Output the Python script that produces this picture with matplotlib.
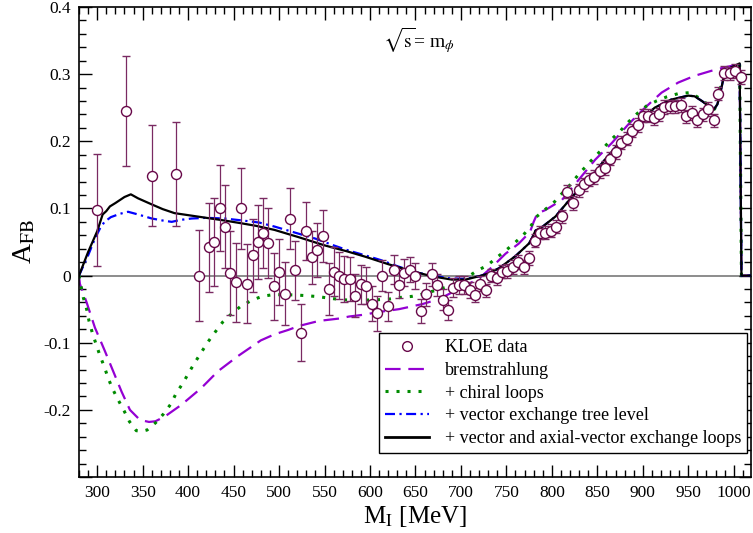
import numpy as np
import matplotlib
matplotlib.use("Agg")
import matplotlib.pyplot as plt
from matplotlib.lines import Line2D
from matplotlib.ticker import MultipleLocator, FixedLocator

plt.rcParams['font.family'] = ['Liberation Serif', 'DejaVu Serif']
plt.rcParams['mathtext.fontset'] = 'stix'

# ---------------- data ----------------
kloe_m = [299.4, 331.5, 360, 387, 412.5, 423, 428.7, 435, 441, 446.5, 453, 458.7, 464.5,
          471, 476.7, 482.5, 488, 494.6, 500.4, 506, 512.5, 518, 524, 530, 535.8, 542, 548,
          554.5, 560, 565.8, 571.6, 577.8, 583.7, 590, 595.4, 602, 608, 613.7, 619.5, 626,
          632, 637.8, 644, 649.8, 656, 661.6, 667.8, 674, 679.8, 685.7, 691.5, 697.4, 703,
          709.8, 715.6, 721.5, 727.4, 733, 739.4, 745, 751, 757.3, 763, 769, 775, 781.5, 787,
          793, 799, 805, 811, 817, 823, 829.4, 835, 840.3, 846.5, 852.4, 858, 864.4, 870.6,
          876, 882.3, 888, 894.4, 900, 906, 912, 917.7, 923.6, 929.8, 935.5, 942, 948, 954,
          960, 965.7, 972, 978, 982.8, 989, 996, 1001.8, 1008]
kloe_a = [0.098, 0.245, 0.149, 0.151, 0.000, 0.042, 0.050, 0.101, 0.073, 0.004, -0.010, 0.100, -0.012,
          0.030, 0.050, 0.063, 0.048, -0.016, 0.005, -0.027, 0.085, 0.008, -0.085, 0.066, 0.027, 0.038, 0.059,
          -0.020, 0.006, 0.000, -0.005, -0.005, -0.030, -0.013, -0.015, -0.042, -0.056, 0.000, -0.046, 0.009,
          -0.014, 0.004, 0.009, -0.001, -0.053, -0.028, 0.002, -0.014, -0.036, -0.051, -0.018, -0.014, -0.014,
          -0.021, -0.029, -0.012, -0.022, 0.000, -0.004, 0.006, 0.007, 0.013, 0.020, 0.013, 0.026, 0.052, 0.064,
          0.064, 0.067, 0.073, 0.088, 0.125, 0.108, 0.127, 0.136, 0.143, 0.147, 0.156, 0.160, 0.174, 0.184,
          0.198, 0.204, 0.216, 0.224, 0.238, 0.238, 0.235, 0.240, 0.251, 0.252, 0.252, 0.254, 0.237, 0.242,
          0.232, 0.240, 0.248, 0.231, 0.271, 0.302, 0.301, 0.305, 0.296]
kloe_err = [0.083, 0.082, 0.075, 0.077, 0.068, 0.066, 0.066, 0.064, 0.062, 0.062, 0.059, 0.060, 0.059,
            0.055, 0.055, 0.052, 0.052, 0.050, 0.049, 0.047, 0.045, 0.044, 0.042, 0.043, 0.040, 0.040, 0.039,
            0.039, 0.036, 0.035, 0.034, 0.033, 0.032, 0.029, 0.028, 0.026, 0.026, 0.023, 0.022, 0.021,
            0.020, 0.020, 0.019, 0.019, 0.018, 0.017, 0.017, 0.016, 0.016, 0.015, 0.014, 0.013, 0.013,
            0.012, 0.011, 0.011, 0.010, 0.010, 0.010, 0.010, 0.010, 0.010, 0.010, 0.010, 0.010, 0.010, 0.010,
            0.010, 0.010, 0.010, 0.010, 0.010, 0.010, 0.010, 0.010, 0.010, 0.010, 0.010, 0.010, 0.010, 0.010,
            0.010, 0.010, 0.010, 0.010, 0.010, 0.010, 0.010, 0.010, 0.010, 0.010, 0.010, 0.010, 0.010, 0.010,
            0.010, 0.010, 0.010, 0.010, 0.010, 0.010, 0.010, 0.010, 0.010]

brems_m = [280, 281, 288.4, 297.5, 308.5, 317.6, 326.7, 336, 347, 357, 364, 374.3, 392.6, 414.5,
           432.8, 454.7, 480, 495, 510, 522, 544, 566, 577, 595, 606, 632, 657.5, 676, 694, 708.7,
           721.5, 734, 749, 763.5, 776, 780, 784, 792.7, 811, 829.4, 847.6, 866, 884, 902.4, 920.7,
           939, 957, 975.5, 990, 1006.5, 1008.5, 1019]
brems_a = [0, -0.0125, -0.04, -0.0775, -0.1125, -0.1425, -0.1725, -0.2, -0.215, -0.218, -0.217, -0.21,
           -0.1925, -0.1675, -0.1425, -0.12, -0.0965, -0.0875, -0.081, -0.075, -0.0675, -0.064, -0.061,
           -0.058, -0.055, -0.05, -0.0425, -0.035, -0.0225, -0.0125, -0.0025, 0.0125, 0.0325, 0.0475,
           0.065, 0.08, 0.0925, 0.0975, 0.1125, 0.1425, 0.1725, 0.1975, 0.225, 0.25, 0.2725, 0.2875,
           0.2975, 0.305, 0.31, 0.315, 0, 0]

chiral_m = [280, 284.7, 288.4, 291, 294.6, 298.6, 303, 308, 312, 317, 323, 329.6, 335.5, 343, 349,
            354.9, 364.4, 373, 380.9, 387, 394.4, 401, 407.9, 414.9, 422, 429.8, 437.9, 447.3, 457.6,
            469, 481, 493, 507, 519, 531, 543.5, 557, 570, 583, 595, 608, 621, 634, 646, 658, 671, 683,
            695, 707, 718, 729, 739, 749, 759, 769, 777.5, 783, 792.7, 803, 812, 821, 829, 838, 847.6,
            856.7, 866, 875, 884, 894, 904, 915, 926, 939, 952, 964.5, 975.5, 979, 983, 987, 992, 1000,
            1006.5, 1008.5, 1019]
chiral_a = [0, -0.0325, -0.05, -0.0675, -0.085, -0.1015, -0.119, -0.1365, -0.1525, -0.169, -0.185,
            -0.2015, -0.2175, -0.231, -0.232, -0.23, -0.219, -0.206, -0.1915, -0.175, -0.16, -0.144,
            -0.1285, -0.1135, -0.0985, -0.084, -0.0695, -0.0575, -0.046, -0.0375, -0.031, -0.0285,
            -0.0285, -0.029, -0.03, -0.0315, -0.034, -0.036, -0.037, -0.0365, -0.036, -0.035, -0.0325,
            -0.031, -0.0275, -0.0225, -0.0175, -0.011, -0.0025, 0.0075, 0.015, 0.0265, 0.037, 0.0485,
            0.061, 0.075, 0.0875, 0.0985, 0.11, 0.1235, 0.1365, 0.15, 0.1635, 0.1775, 0.19, 0.2035,
            0.215, 0.2285, 0.2415, 0.2525, 0.26, 0.266, 0.271, 0.2725, 0.2625, 0.25, 0.248, 0.262, 0.29,
            0.305, 0.31, 0.314, 0, 0]

vtree_m = [280, 290, 297.5, 303, 308, 315, 325, 334, 345, 360, 372, 382, 392, 404, 420, 440, 460,
           478, 495, 515, 540, 560, 577, 595, 612, 630, 650, 668, 687, 705, 720, 730, 742, 760, 775,
           779, 782, 789, 804, 822, 840, 858, 877, 895, 913, 931, 950, 957, 965, 978, 982, 985, 990,
           997, 1006.5, 1008.5, 1019]
vtree_a = [0, 0.03, 0.055, 0.07, 0.08, 0.087, 0.092, 0.095, 0.091, 0.085, 0.082, 0.08, 0.083,
           0.085, 0.086, 0.085, 0.082, 0.079, 0.073, 0.065, 0.055, 0.045, 0.037, 0.03, 0.023, 0.014,
           0.005, 0.0, -0.004, -0.005, -0.001, 0.003, 0.011, 0.029, 0.048, 0.058, 0.067, 0.072, 0.088,
           0.117, 0.142, 0.172, 0.202, 0.227, 0.25, 0.262, 0.268, 0.267, 0.26, 0.247, 0.255, 0.27,
           0.302, 0.31, 0.316, 0, 0]

vaxial_m = [280, 290, 300, 306, 310, 314, 320, 330, 337, 345, 360, 372, 385, 400, 420, 440, 458,
            475, 495, 522, 550, 575, 595, 620, 645, 668, 690, 705, 720, 730, 742, 760, 775, 779, 782,
            789, 804, 822, 840, 858, 877, 895, 913, 931, 950, 957, 965, 978, 982, 985, 990, 997,
            1006.5, 1008.5, 1019]
vaxial_a = [0, 0.035, 0.066, 0.091, 0.096, 0.103, 0.108, 0.117, 0.121, 0.115, 0.106, 0.099, 0.093,
            0.09, 0.086, 0.082, 0.078, 0.074, 0.068, 0.057, 0.045, 0.036, 0.028, 0.017, 0.007, -0.001,
            -0.006, -0.006, -0.001, 0.003, 0.011, 0.029, 0.048, 0.058, 0.067, 0.072, 0.088, 0.117,
            0.142, 0.172, 0.202, 0.227, 0.25, 0.262, 0.268, 0.267, 0.26, 0.247, 0.255, 0.27, 0.302,
            0.31, 0.316, 0, 0]

labels = ['KLOE data', 'bremstrahlung', '+ chiral loops', '+ vector exchange tree level',
          '+ vector and axial-vector exchange loops']
x_ticks = [300, 350, 400, 450, 500, 550, 600, 650, 700, 750, 800, 850, 900, 950, 1000]
y_ticks = [-0.3, -0.2, -0.1, 0.0, 0.1, 0.2, 0.3, 0.4]
y_ticklabels = ['', '-0.2', '-0.1', '0', '0.1', '0.2', '0.3', '0.4']

# ---------------- colors ----------------
c_data = '#670748'
c_err = '#7a2a62'
c_brems = '#9400d3'
c_chiral = '#008b00'
c_tree = '#0000ff'
c_loops = '#000000'

fig = plt.figure(figsize=(7.53, 5.33), dpi=100)
ax = fig.add_axes([79/753, 1-477/533, 672/753, 470/533])

ax.axhline(0, color='#6e6e6e', lw=1.1, zorder=1)

ax.plot(brems_m, brems_a, color=c_brems, lw=1.6, dashes=(7, 3.5), zorder=2)
ax.plot(chiral_m, chiral_a, color=c_chiral, lw=2.2, dashes=(1, 2.6), zorder=2)
ax.plot(vtree_m, vtree_a, color=c_tree, lw=1.6, dashes=(4.5, 2, 1, 2), zorder=3)
ax.plot(vaxial_m, vaxial_a, color=c_loops, lw=1.6, zorder=4)

ax.errorbar(kloe_m, kloe_a, yerr=kloe_err, fmt='o', ms=7.2, mfc='white', mec=c_data, mew=1.0,
            ecolor=c_err, elinewidth=0.9, capsize=3, capthick=0.9, zorder=5)

ax.set_xlim(280, 1019)
ax.set_ylim(-0.3, 0.4)
ax.xaxis.set_major_locator(FixedLocator(x_ticks))
ax.xaxis.set_minor_locator(MultipleLocator(10))
ax.set_yticks(y_ticks)
ax.set_yticklabels(y_ticklabels)
ax.yaxis.set_minor_locator(MultipleLocator(0.02))
ax.tick_params(which='both', direction='in', top=True, right=True, labelsize=12.5, width=1.0)
ax.tick_params(which='major', length=9, pad=6)
ax.tick_params(which='minor', length=5)
for s in ax.spines.values():
    s.set_linewidth(1.2)

ax.set_xlabel(r'M$_\mathrm{I}$ [MeV]', fontsize=18, labelpad=2)
ax.set_ylabel(r'A$_\mathrm{FB}$', fontsize=20, labelpad=4)

ax.text(0.506, 0.913, r'$\sqrt{\mathrm{s}}$= m$_{\phi}$', transform=ax.transAxes,
        fontsize=14, ha='center', va='baseline')

handles = [
    Line2D([], [], ls='none', marker='o', ms=7, mfc='white', mec=c_data, mew=1.0),
    Line2D([], [], color=c_brems, lw=1.6, dashes=(7, 3.5)),
    Line2D([], [], color=c_chiral, lw=2.2, dashes=(1, 2.6)),
    Line2D([], [], color=c_tree, lw=1.6, dashes=(4.5, 2, 1, 2)),
    Line2D([], [], color=c_loops, lw=2.0),
]
leg = ax.legend(handles, labels, loc='lower right', bbox_to_anchor=(0.994, 0.051),
                borderaxespad=0, fontsize=13, frameon=True, fancybox=False,
                edgecolor='black', framealpha=1, handlelength=2.4, labelspacing=0.32,
                handletextpad=0.9, borderpad=0.32)
leg.get_frame().set_linewidth(1.0)

fig.savefig('out.png', dpi=100)
